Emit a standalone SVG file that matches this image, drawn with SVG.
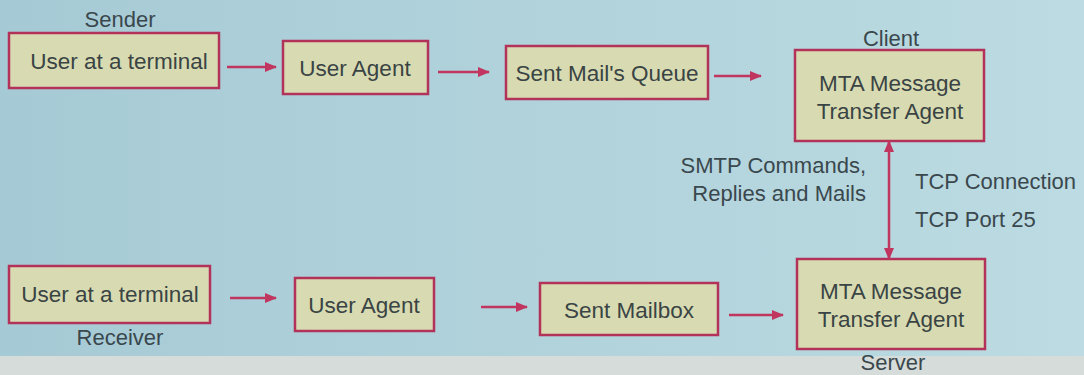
<svg xmlns="http://www.w3.org/2000/svg" width="1084" height="375" viewBox="0 0 1084 375">
<defs>
<linearGradient id="bg" x1="0" y1="0" x2="1" y2="0">
<stop offset="0" stop-color="#a6cad5"/>
<stop offset="1" stop-color="#bcdbe2"/>
</linearGradient>
<marker id="ah" viewBox="0 0 12 10" refX="11" refY="5" markerWidth="12" markerHeight="10" markerUnits="userSpaceOnUse" orient="auto-start-reverse">
<path d="M0,0 L12,5 L0,10 Z" fill="#c0365f"/>
</marker>
<style>
.box{fill:#d8dbb2;stroke:#b2325a;stroke-width:2.5}
.t{font-family:"Liberation Sans",Arial,sans-serif;font-size:22.5px;fill:#3a4444;text-anchor:middle}
.lbl{font-family:"Liberation Sans",Arial,sans-serif;font-size:22px;fill:#3a484e}
.c{stroke:#c0365f;stroke-width:2.5;fill:none;marker-end:url(#ah)}
</style>
</defs>
<rect x="0" y="0" width="1084" height="375" fill="url(#bg)"/>
<rect x="0" y="356" width="1084" height="19" fill="#d6dcda"/>

<g id="sender-user">
<rect class="box" x="9" y="33" width="210" height="55"/>
<text class="t" x="119" y="69">User at a terminal</text>
</g>
<g id="sender-agent">
<rect class="box" x="283" y="41" width="145" height="53"/>
<text class="t" x="355" y="76">User Agent</text>
</g>
<g id="queue">
<rect class="box" x="506" y="46" width="202" height="53"/>
<text class="t" x="607" y="81">Sent Mail's Queue</text>
</g>
<g id="mta-client">
<rect class="box" x="795" y="50" width="189" height="91"/>
<text class="t" x="890" y="91">MTA Message</text>
<text class="t" x="890" y="119">Transfer Agent</text>
</g>
<g id="receiver-user">
<rect class="box" x="9" y="266" width="201" height="57"/>
<text class="t" x="110" y="302">User at a terminal</text>
</g>
<g id="receiver-agent">
<rect class="box" x="295" y="278" width="139" height="53"/>
<text class="t" x="364" y="313">User Agent</text>
</g>
<g id="mailbox">
<rect class="box" x="540" y="283" width="178" height="52"/>
<text class="t" x="629" y="318">Sent Mailbox</text>
</g>
<g id="mta-server">
<rect class="box" x="797" y="259" width="188" height="90"/>
<text class="t" x="891" y="299">MTA Message</text>
<text class="t" x="891" y="327">Transfer Agent</text>
</g>

<g id="labels">
<text class="lbl" x="120" y="27" text-anchor="middle">Sender</text>
<text class="lbl" x="891" y="46" text-anchor="middle">Client</text>
<text class="lbl" x="120" y="345" text-anchor="middle">Receiver</text>
<text class="lbl" x="893" y="370" text-anchor="middle">Server</text>
<text class="lbl" x="866" y="173" text-anchor="end">SMTP Commands,</text>
<text class="lbl" x="866" y="201" text-anchor="end">Replies and Mails</text>
<text class="lbl" x="915" y="189">TCP Connection</text>
<text class="lbl" x="915" y="227">TCP Port 25</text>
</g>

<g id="connectors">
<line class="c" x1="227" y1="67" x2="276" y2="67"/>
<line class="c" x1="438" y1="72" x2="489" y2="72"/>
<line class="c" x1="714" y1="76" x2="761" y2="76"/>
<line class="c" x1="230" y1="298" x2="276" y2="298"/>
<line class="c" x1="481" y1="307" x2="527" y2="307"/>
<line class="c" x1="729" y1="315" x2="783" y2="315"/>
<line class="c" x1="889" y1="141" x2="889" y2="259" marker-start="url(#ah)"/>
</g>
</svg>
